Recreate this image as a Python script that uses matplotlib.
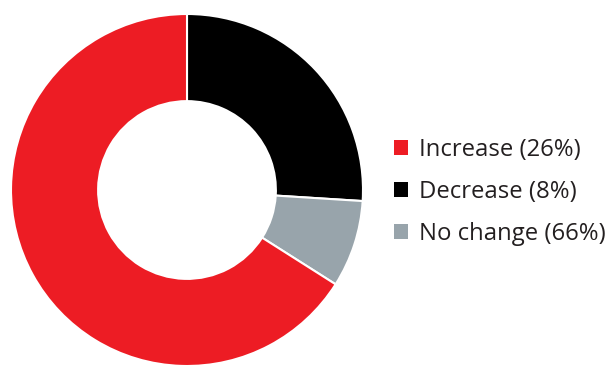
import matplotlib
matplotlib.use('Agg')
import matplotlib.pyplot as plt
from matplotlib.patches import Patch

# slice values as drawn, clockwise from 12 o'clock
slice_values = [26, 8, 66]
slice_colors = ['#000000', '#98A4AB', '#ED1C24']

# legend entries as printed
legend_labels = ['Increase (26%)', 'Decrease (8%)', 'No change (66%)']
legend_colors = ['#ED1C24', '#000000', '#98A4AB']

plt.rcParams['font.family'] = ['Open Sans', 'DejaVu Sans']

fig = plt.figure(figsize=(6.05, 3.65), dpi=100)
ax = fig.add_axes([11 / 605, -1 / 365, 352 / 605, 352 / 365])
ax.pie(slice_values, colors=slice_colors, startangle=90, counterclock=False,
       radius=1, wedgeprops=dict(width=0.495, edgecolor='white', linewidth=1.5))
ax.set_xlim(-1, 1)
ax.set_ylim(-1, 1)
ax.set_aspect('equal')
ax.axis('off')

handles = [Patch(facecolor=c, edgecolor='none') for c in legend_colors]
leg = fig.legend(handles, legend_labels, loc='center left',
                 bbox_to_anchor=(372 / 605, 1 - 192 / 365), frameon=False,
                 fontsize=17.2, handlelength=0.6, handleheight=0.6,
                 handletextpad=0.45, labelspacing=0.75)
for t in leg.get_texts():
    t.set_color('#231F20')

fig.savefig('out.png', dpi=100)
